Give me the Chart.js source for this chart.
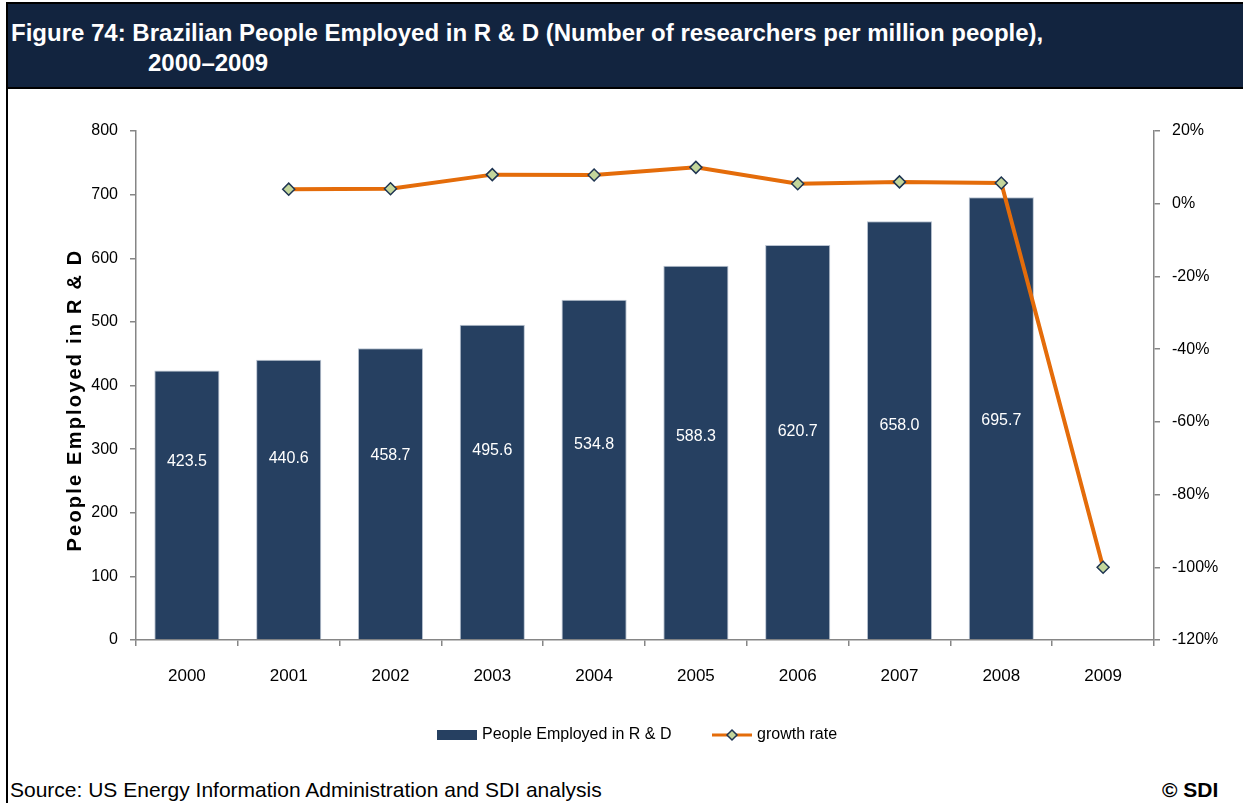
<!DOCTYPE html>
<html>
<head>
<meta charset="utf-8">
<script src="https://cdn.jsdelivr.net/npm/chart.js@4/dist/chart.umd.min.js"></script>
<style>
  html, body { margin: 0; padding: 0; background: #fff; }
  body { width: 1243px; height: 803px; position: relative; overflow: hidden; font-family: "Liberation Sans", Arial, sans-serif; }
  #titlebar {
    position: absolute; left: 6px; top: 2px; width: 1245px; height: 83px;
    background: #12243F; border: 2px solid #000; box-sizing: content-box;
  }
  #titlebar div { position: absolute; color: #fff; font-weight: bold; font-size: 24px; white-space: nowrap; }
  #t1 { left: 3px; top: 15px; }
  #t2 { left: 140px; top: 45px; }
  #leftrule { position: absolute; left: 6px; top: 86px; width: 2px; height: 717px; background: #000; }
  #wrap { position: absolute; left: 0; top: 88px; width: 1243px; height: 672px; }
  #source { position: absolute; left: 10px; top: 778px; font-size: 21px; color: #000; white-space: nowrap; }
  #copy { position: absolute; left: 1162px; top: 778px; font-size: 21px; font-weight: bold; color: #000; white-space: nowrap; }
</style>
</head>
<body>
<div id="titlebar">
  <div id="t1">Figure 74: Brazilian People Employed in R &amp; D (Number of researchers per million people),</div>
  <div id="t2">2000–2009</div>
</div>
<div id="leftrule"></div>
<div id="wrap"><canvas id="c"></canvas></div>
<div id="source">Source: US Energy Information Administration and SDI analysis</div>
<div id="copy">© SDI</div>
<script>
// Researchers per million people, and year-on-year growth (%)
const years = ['2000', '2001', '2002', '2003', '2004', '2005', '2006', '2007', '2008', '2009'];
const researchers = [423.5, 440.6, 458.7, 495.6, 534.8, 588.3, 620.7, 658.0, 695.7, null];
const growthRate = [null, 4.0, 4.1, 8.0, 7.9, 10.0, 5.5, 6.0, 5.7, -100.0];
const leftTicks = [0, 100, 200, 300, 400, 500, 600, 700, 800];
const rightTicks = [20, 0, -20, -40, -60, -80, -100, -120];

const NAVY = '#264061';
const ORANGE = '#E46C0A';
const DIAMOND = '#C3D69B';
const AXIS = '#868686';
const FONT = '"Liberation Sans", Arial, sans-serif';

// value labels inside each bar, the y-axis title and the bottom legend
const decorations = {
  id: 'decorations',
  afterDatasetsDraw(chart) {
    const ctx = chart.ctx;
    const y = chart.scales.y;
    const barMeta = chart.getDatasetMeta(1);
    ctx.save();
    ctx.fillStyle = '#fff';
    ctx.font = '16px ' + FONT;
    ctx.textAlign = 'center';
    ctx.textBaseline = 'middle';
    barMeta.data.forEach((bar, i) => {
      const v = researchers[i];
      if (v == null) return;
      ctx.fillText(v.toFixed(1), bar.x, y.getPixelForValue(v * 0.236 + 181));
    });
    ctx.restore();
  },
  afterDraw(chart) {
    const ctx = chart.ctx;
    ctx.save();
    // y-axis title
    ctx.translate(75, 312);
    ctx.rotate(-Math.PI / 2);
    ctx.fillStyle = '#000';
    ctx.font = 'bold 20px ' + FONT;
    ctx.textAlign = 'center';
    ctx.textBaseline = 'middle';
    if ('letterSpacing' in ctx) ctx.letterSpacing = '2.2px';
    ctx.fillText('People Employed in R & D', 0, 0);
    ctx.restore();

    // legend
    const ly = 647;
    ctx.save();
    ctx.font = '16px ' + FONT;
    ctx.textBaseline = 'middle';
    ctx.textAlign = 'left';
    ctx.fillStyle = NAVY;
    ctx.fillRect(437, ly - 5, 40, 10);
    ctx.fillStyle = '#000';
    ctx.fillText(chart.data.datasets[1].label, 482, ly);
    ctx.strokeStyle = ORANGE;
    ctx.lineWidth = 3;
    ctx.beginPath();
    ctx.moveTo(712, ly);
    ctx.lineTo(752, ly);
    ctx.stroke();
    ctx.beginPath();
    ctx.moveTo(732, ly - 5);
    ctx.lineTo(737, ly);
    ctx.lineTo(732, ly + 5);
    ctx.lineTo(727, ly);
    ctx.closePath();
    ctx.fillStyle = DIAMOND;
    ctx.fill();
    ctx.strokeStyle = '#1F3552';
    ctx.lineWidth = 1.5;
    ctx.stroke();
    ctx.fillStyle = '#000';
    ctx.fillText(chart.data.datasets[0].label, 757, ly);
    ctx.restore();
  }
};

new Chart(document.getElementById('c'), {
  type: 'bar',
  data: {
    labels: years,
    datasets: [
      {
        type: 'line',
        label: 'growth rate',
        data: growthRate,
        yAxisID: 'y1',
        borderColor: ORANGE,
        borderWidth: 4,
        pointStyle: 'rectRot',
        pointRadius: 6,
        pointBackgroundColor: DIAMOND,
        pointBorderColor: '#1F3552',
        pointBorderWidth: 1.5,
        tension: 0,
        spanGaps: false,
        order: 0
      },
      {
        type: 'bar',
        label: 'People Employed in R & D',
        data: researchers,
        yAxisID: 'y',
        backgroundColor: NAVY,
        borderColor: '#B9C3D1',
        borderWidth: 1,
        barPercentage: 0.64,
        categoryPercentage: 1.0,
        order: 1
      }
    ]
  },
  options: {
    responsive: true,
    maintainAspectRatio: false,
    animation: false,
    layout: { padding: { top: 43, left: 0, right: 0, bottom: 0 } },
    plugins: { legend: { display: false }, tooltip: { enabled: false } },
    scales: {
      x: {
        offset: true,
        afterFit(s) { s.height = 120; },
        grid: { offset: true, drawOnChartArea: false, color: AXIS, tickLength: 6, lineWidth: 1.5 },
        border: { color: AXIS, width: 1.5 },
        ticks: { color: '#000', font: { size: 17, family: FONT }, padding: 20, maxRotation: 0 }
      },
      y: {
        position: 'left',
        min: 0, max: 800,
        afterFit(s) { s.width = 136; },
        afterBuildTicks(s) { s.ticks = leftTicks.map(v => ({ value: v })); },
        grid: { drawOnChartArea: false, color: AXIS, tickLength: 6, lineWidth: 1.5 },
        border: { color: AXIS, width: 1.5 },
        ticks: { color: '#000', font: { size: 16, family: FONT }, padding: 12 }
      },
      y1: {
        position: 'right',
        min: -120, max: 20,
        afterFit(s) { s.width = 89; },
        afterBuildTicks(s) { s.ticks = rightTicks.map(v => ({ value: v })); },
        grid: { drawOnChartArea: false, color: AXIS, tickLength: 6, lineWidth: 1.5 },
        border: { color: AXIS, width: 1.5 },
        ticks: { color: '#000', font: { size: 16, family: FONT }, padding: 12, callback: v => v + '%' }
      }
    }
  },
  plugins: [decorations]
});
</script>
</body>
</html>
